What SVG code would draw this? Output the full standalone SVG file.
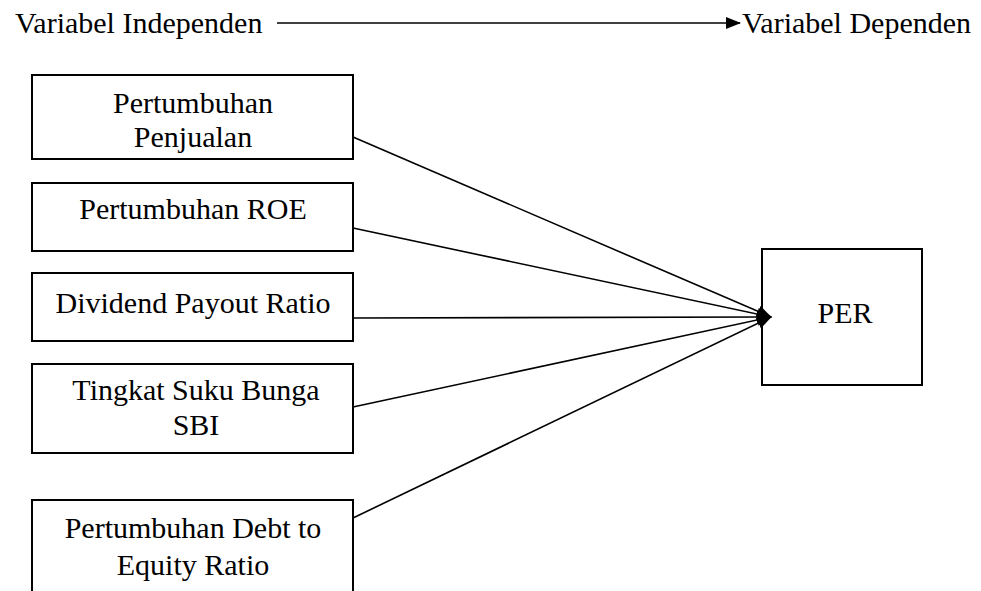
<svg xmlns="http://www.w3.org/2000/svg" width="981" height="591" viewBox="0 0 981 591">
<style>
.box{fill:#fff;stroke:#000;stroke-width:2}
.t{font-family:"Liberation Serif","Times New Roman",serif;font-size:30px;fill:#000}
.c{text-anchor:middle}
.ln{stroke:#000;stroke-width:1.6;fill:none}
</style>
<defs>
<marker id="ah" markerWidth="15" markerHeight="12" refX="14" refY="6" orient="auto" markerUnits="userSpaceOnUse">
<path d="M0,0 L15,6 L0,12 Z" fill="#000"/>
</marker>
</defs>
<rect width="981" height="591" fill="#fff"/>
<g id="header">
<text class="t" x="15" y="33">Variabel Independen</text>
<text class="t" x="742" y="33">Variabel Dependen</text>
</g>
<g id="n1">
<rect class="box" x="32" y="75" width="321" height="84"/>
<text class="t c" x="193" y="113">Pertumbuhan</text>
<text class="t c" x="193" y="147">Penjualan</text>
</g>
<g id="n2">
<rect class="box" x="32" y="183" width="321" height="68"/>
<text class="t c" x="193" y="219">Pertumbuhan ROE</text>
</g>
<g id="n3">
<rect class="box" x="32" y="273" width="321" height="68"/>
<text class="t c" x="193" y="313">Dividend Payout Ratio</text>
</g>
<g id="n4">
<rect class="box" x="32" y="364" width="321" height="89"/>
<text class="t c" x="196" y="400">Tingkat Suku Bunga</text>
<text class="t c" x="196" y="435">SBI</text>
</g>
<g id="n5">
<rect class="box" x="32" y="500" width="321" height="110"/>
<text class="t c" x="193" y="538">Pertumbuhan Debt to</text>
<text class="t c" x="193" y="575">Equity Ratio</text>
</g>
<g id="per">
<rect class="box" x="762" y="249" width="160" height="136"/>
<text class="t c" x="845" y="323">PER</text>
</g>
<g id="connectors">
<line class="ln" x1="277" y1="23" x2="740" y2="23" marker-end="url(#ah)"/>
<line class="ln" x1="353" y1="137" x2="771" y2="317" marker-end="url(#ah)"/>
<line class="ln" x1="353" y1="228" x2="771" y2="317" marker-end="url(#ah)"/>
<line class="ln" x1="353" y1="318" x2="771" y2="317" marker-end="url(#ah)"/>
<line class="ln" x1="353" y1="407" x2="771" y2="317" marker-end="url(#ah)"/>
<line class="ln" x1="353" y1="518" x2="771" y2="317" marker-end="url(#ah)"/>
</g>
</svg>
